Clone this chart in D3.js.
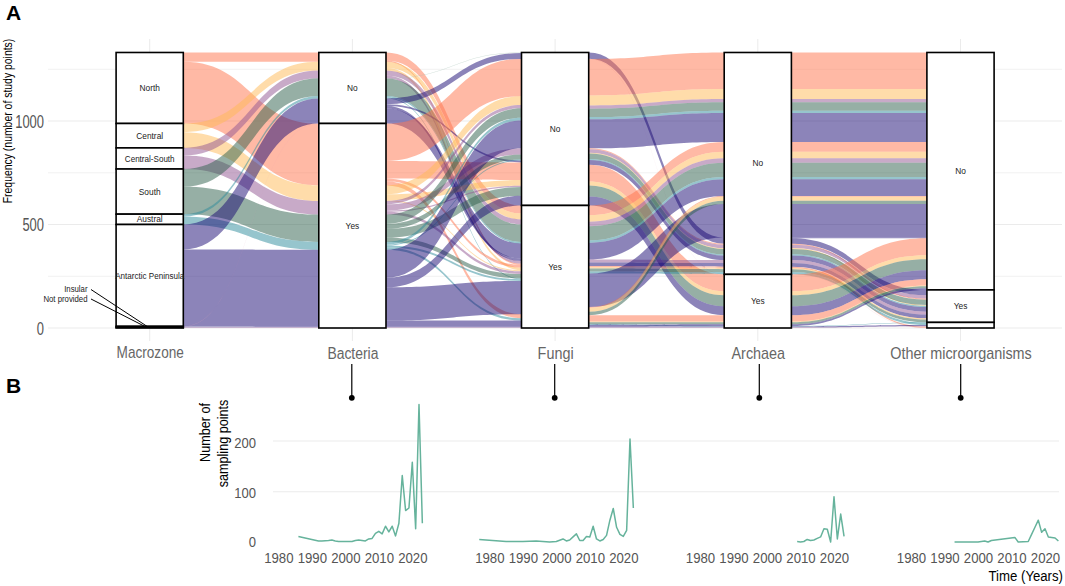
<!DOCTYPE html>
<html><head><meta charset="utf-8">
<style>html,body{margin:0;padding:0;background:#fff}svg{display:block}text{font-family:"Liberation Sans",Arial,sans-serif}</style>
<script src="https://cdn.jsdelivr.net/npm/d3@7"></script>
</head><body><svg id="c" width="1065" height="586"></svg>
<script>
// ---------- DATA ----------
const axesNames = ["Macrozone","Bacteria","Fungi","Archaea","Other microorganisms"];
const freqTicks = [0,500,1000];
const freqMinorTicks = [250,750,1250];
const zoneColors = {N:"#ff734b",C:"#ffb955",CS:"#915591",S:"#2d5f4b",Au:"#2d8c9b",An:"#190973",In:"#190973",NP:"#e8a8c0",SP:"#a8c4b8"};

const macrozoneStrata = [["North",343],["Central",118],["Central-South",102],["South",218],["Austral",50],["Antarctic Peninsula",492],["",5],["",3]];
const bacteriaStrata = [["No",343],["Yes",988]];
const fungiStrata = [["No",739],["Yes",592]];
const archaeaStrata = [["No",1072],["Yes",259]];
const otherStrata = [["No",1147],["Yes",157],["",27]];

// gap rows: [flow id, zone, number of study points], top-to-bottom on the left axis
const gap1Left = [["Nn","N",45],["Ny","N",298],["Cn","C",42],["Cy","C",76],["CSn","CS",37],["CSy","CS",65],["Sn","S",86],["Sy","S",132],["Aun","Au",12],["Auy","Au",38],["Ann","An",121],["Any","An",371],["NPn","NP",1],["Iy","In",5],["NPy","NP",2]];
const gap1Right = ["Nn","Cn","CSn","Sn","Aun","Ann","NPn","Ny","Cy","CSy","Sy","Auy","Any","Iy","NPy"];

const gap2Left = [
 ["a1","N",39],["a2","N",6],["b1","C",29],["b2","C",13],["c1","CS",24],["c2","CS",13],["d2","SP",2],["d1","S",84],["e1","Au",8],["e2","Au",4],
 ["f1","An",28],["f2","An",9],["f3","An",12],["f4","An",72],["g1","NP",1],
 ["h1","N",180],["h2","N",85],["h3","N",13],["h4","N",20],
 ["i1","C",43],["i2","C",28],["i3","C",5],
 ["j1","CS",16],["j2","CS",30],["j3","CS",6],["j4","CS",13],
 ["k1","S",45],["k2","S",24],["k3","S",42],["k4","S",21],
 ["l1","Au",13],["l2","Au",5],["l3","Au",9],["l4","Au",11],
 ["m1","An",135],["m2","An",47],["m3","An",160],["m4","An",29],["n1","In",5],["n2","NP",2]];
const gap2Right = ["d2","g1","f1","h1","i1","j1","k1","l1","m1","j2","k2","l2","f2","h2","i2","j3","k3","m2",
 "a1","b1","c1","d1","e1","f4","f3","c2","a2","h3","b2","i3","j4","k4","e2","l3","m3","h4","l4","m4","n1","n2"];

const gap3Left = [
 ["t","An",30],["p","NP",1],
 ["aN","N",177],["aC","C",48],["aCS","CS",16],["aS","S",40],["aAu","Au",11],["aAn","An",140],
 ["dN","N",5],["dCS","CS",16],["dC","C",4],["dS","S",26],["dAu","Au",6],["dAn","An",22],
 ["yN","N",81],["yC","C",20],["yS","S",53],["yAn","An",43],
 ["bN","N",47],["bC","C",32],["bCS","CS",22],["bS","S",68],["bAu","Au",12],["bAn","An",80],
 ["eCS","CS",14],["eAn","An",18],["eN","N",6],["eC","C",6],["eS","S",14],["eAu","Au",10],
 ["cAn","An",162],["cN","N",4],["cC","C",19],["cS","S",16],
 ["zN","N",31],["zC","C",3],["zS","S",10],["zAu","Au",3],["zAn","An",8],["zI","In",5],["zP","NP",2]];
const gap3Right = ["aN","aC","aCS","aS","aAu","aAn","bN","bC","bCS","bS","bAu","bAn","cN","cC","cS","cAn",
 "t","dN","dCS","dC","dS","dAu","dAn","eCS","eAn","eN","eC","eS","eAu","p",
 "yN","yC","yS","yAn","zN","zC","zS","zAn","zAu","zI","zP"];

const gap4Left = [
 ["AN","N",177],["AC","C",48],["ACS","CS",16],["AS","S",40],["AAu","Au",11],["AAn","An",140],
 ["BN","N",47],["BC","C",32],["BCS","CS",22],["BS","S",68],["BAu","Au",12],["BAn","An",80],
 ["CN","N",4],["CC","C",19],["CS2","S",16],["CAn","An",162],
 ["T1","An",4],["T2","An",26],["DN","N",5],["DCS","CS",16],["DC","C",4],["DS","S",26],["DAu","Au",6],["DAn","An",22],
 ["ECS","CS",14],["EAn","An",18],["EN","N",6],["EC","C",6],["ES","S",14],["EAu","Au",10],["P1","NP",1],
 ["YN","N",81],["YC","C",20],["YS","S",53],["YAn","An",43],
 ["ZN","N",31],["ZC","C",3],["ZS","S",10],["ZAn","An",8],["ZAu","Au",3],["ZI","In",5],["ZP","NP",2]];
const gap4Right = ["AN","AC","ACS","AS","AAu","AAn","BN","BC","BCS","BS","BAu","BAn","CN","CC","CS2","CAn",
 "T1","YN","YC","YS","YAn","ZN","ZC","ZS","ZAn",
 "T2","DCS","DN","DS","DC","DAu","DAn","ECS","EAn","EC","ES",
 "ZAu","EAu","ZI","ZP","EN","P1"];

const sampleTicks = [0,100,200];
const yearTicks = [1980,1990,2000,2010,2020];
const bacteriaYears = [1986,1992,1993,1995,1996,1997,1998,2000,2002,2003,2004,2005,2006,2007,2008,2009,2010,2011,2012,2013,2014,2015,2016,2017,2018,2019,2020,2021,2022,2023];
const bacteriaCounts = [12,3,3,4,5,3,2,2,2,4,5,4,3,7,8,18,22,17,32,21,32,13,38,132,63,68,158,27,272,38];
const fungiYears = [1977,1985,1990,1994,1998,2000,2002,2003,2004,2005,2006,2007,2008,2009,2010,2011,2012,2013,2014,2015,2016,2017,2018,2019,2020,2021,2022,2023];
const fungiCounts = [6,2,2,3,1,2,7,3,5,11,17,4,4,12,11,32,7,3,6,14,44,67,30,16,12,24,204,68];
const archaeaYears = [2009,2010,2011,2012,2013,2014,2015,2016,2017,2018,2019,2020,2021,2022,2023];
const archaeaCounts = [2,1,2,6,4,5,8,11,27,26,1,90,7,56,12];
const otherYears = [1993,2000,2002,2003,2004,2011,2012,2015,2016,2017,2018,2019,2020,2021,2022,2023,2024];
const otherCounts = [1,1,3,1,4,10,1,2,16,30,44,20,27,11,10,9,3];
const lineSeries = [[bacteriaYears,bacteriaCounts],[fungiYears,fungiCounts],[archaeaYears,archaeaCounts],[otherYears,otherCounts]];

// ---------- LAYOUT ----------
const svg = d3.select("#c");
const TOTAL = 1331;
const y = d3.scaleLinear().domain([0,1000]).range([328,121]);
const x = d3.scalePoint().domain(axesNames).range([149.7,960.5]);
const halfW = 33.6;
const grid = "#ebebeb";

function lbl(sel,px,py,str,o={}){
  const t = sel.append("text").text(str)
    .attr("transform",`translate(${px},${py}) rotate(${o.rot||0}) scale(${o.sx||1},1)`)
    .attr("text-anchor",o.anchor||"middle").attr("dominant-baseline","central")
    .attr("font-size",o.size||12).attr("fill",o.fill||"#000");
  if(o.weight) t.attr("font-weight",o.weight);
  return t;
}

// grid
const gGrid = svg.append("g");
gGrid.selectAll(".maj").data(freqTicks).join("line").attr("x1",48).attr("x2",1062)
  .attr("y1",d=>y(d)).attr("y2",d=>y(d)).attr("stroke",grid).attr("stroke-width",1.1);
gGrid.selectAll(".min").data(freqMinorTicks).join("line").attr("class","min").attr("x1",48).attr("x2",1062)
  .attr("y1",d=>y(d)).attr("y2",d=>y(d)).attr("stroke",grid).attr("stroke-width",.7);
gGrid.selectAll(".v").data(axesNames).join("line").attr("class","v").attr("x1",d=>x(d)).attr("x2",d=>x(d))
  .attr("y1",39).attr("y2",341).attr("stroke",grid).attr("stroke-width",1);

// flows
const flowArea = d3.area().x(d=>d.x).y0(d=>y(d.top)).y1(d=>y(d.bottom)).curve(d3.curveBumpX);
function stack(ids,get){ let v=TOTAL; const m={}; ids.forEach(id=>{const n=get(id); m[id]={top:v,bottom:v-n}; v-=n;}); return m; }
const gaps=[[gap1Left,gap1Right],[gap2Left,gap2Right],[gap3Left,gap3Right],[gap4Left,gap4Right]];
const gFlow = svg.append("g");
gaps.forEach(([L,R],i)=>{
  const byId = new Map(L.map(r=>[r[0],r]));
  const lm = stack(L.map(r=>r[0]),id=>byId.get(id)[2]);
  const rm = stack(R,id=>byId.get(id)[2]);
  const x0 = x(axesNames[i])+halfW, x1 = x(axesNames[i+1])-halfW;
  gFlow.append("g").selectAll("path").data(L).join("path")
    .attr("d",r=>flowArea([{x:x0,...lm[r[0]]},{x:x1,...rm[r[0]]}]))
    .attr("fill",r=>zoneColors[r[1]]).attr("fill-opacity",.5);
});

// strata
const allStrata=[macrozoneStrata,bacteriaStrata,fungiStrata,archaeaStrata,otherStrata];
const gS = svg.append("g");
allStrata.forEach((st,i)=>{
  let v=TOTAL;
  st.forEach(([name,n])=>{
    const cx=x(axesNames[i]);
    gS.append("rect").attr("x",cx-halfW).attr("width",2*halfW).attr("y",y(v)).attr("height",y(v-n)-y(v))
      .attr("fill","#fff").attr("stroke","#000").attr("stroke-width",1.6);
    v-=n;
  });
  v=TOTAL;
  st.forEach(([name,n])=>{
    if(name) lbl(gS,x(axesNames[i]),y(v-n/2),name,{size:8.6,sx:name.length>12?.94:.97,fill:"#222"});
    v-=n;
  });
});

// panel A labels
const axY = svg.append("g").attr("transform","translate(44,0)").call(d3.axisLeft(y).tickValues(freqTicks).tickSize(0).tickFormat(d3.format("d")));
axY.select(".domain").remove();
axY.selectAll("text").attr("x",null).attr("dy",null).attr("transform","scale(.74,1)")
  .attr("dominant-baseline","central").attr("font-size",17.5).attr("fill","#555").style("font-family","'Liberation Sans'");
const axX = svg.append("g").attr("transform","translate(0,346)").call(d3.axisBottom(x).tickSize(0));
axX.select(".domain").remove();
axX.selectAll("text").attr("y",null).attr("dy",null).attr("transform",d=>`translate(0,${d==="Macrozone"?6.5:7.5}) scale(${d==="Macrozone"?.85:d==="Bacteria"?.87:.9},1)`)
  .attr("dominant-baseline","central").attr("font-size",16).attr("fill","#666").style("font-family","'Liberation Sans'");

lbl(svg,8,121,"Frequency (number of study points)",{rot:-90,size:12,sx:.87});
lbl(svg,6,12,"A",{anchor:"start",size:21,weight:"bold"});
lbl(svg,6,385,"B",{anchor:"start",size:21,weight:"bold"});
lbl(svg,87.5,289,"Insular",{anchor:"end",size:8.2,sx:.95,fill:"#222"});
lbl(svg,87.5,299,"Not provided",{anchor:"end",size:8.2,sx:.95,fill:"#222"});
svg.append("line").attr("x1",91).attr("y1",289.5).attr("x2",148).attr("y2",327).attr("stroke","#000").attr("stroke-width",1);
svg.append("line").attr("x1",91).attr("y1",299).attr("x2",146).attr("y2",327).attr("stroke","#000").attr("stroke-width",1);

// lollipops
const lollipopX=[351.8,554.7,759.3,960.7];
svg.append("g").selectAll("line").data(lollipopX).join("line").attr("x1",d=>d).attr("x2",d=>d).attr("y1",364).attr("y2",397).attr("stroke","#000").attr("stroke-width",1.2);
svg.append("g").selectAll("circle").data(lollipopX).join("circle").attr("cx",d=>d).attr("cy",397.8).attr("r",2.9).attr("fill","#000");

// panel B
const yB = d3.scaleLinear().domain([0,200]).range([542.5,441]);
svg.append("g").selectAll("line").data(sampleTicks.slice(1)).join("line").attr("x1",273).attr("x2",1059)
  .attr("y1",d=>yB(d)).attr("y2",d=>yB(d)).attr("stroke",grid).attr("stroke-width",1.1);
const axYB = svg.append("g").attr("transform","translate(256,0)").call(d3.axisLeft(yB).tickValues(sampleTicks).tickSize(0).tickPadding(0));
axYB.select(".domain").remove();
axYB.selectAll("text").attr("x",null).attr("dy",null).attr("dominant-baseline","central").attr("transform",d=>`translate(0,${d===200?1.5:d===0?-1:0}) scale(.87,1)`)
  .attr("font-size",15).attr("fill","#555").style("font-family","'Liberation Sans'");
const facetX0=[278.3,489.3,700,911];
lineSeries.forEach(([yrs,cnt],i)=>{
  const fx=d3.scaleLinear().domain([1980,2020]).range([facetX0[i],facetX0[i]+134]);
  const ax=svg.append("g").attr("transform","translate(0,551)").call(d3.axisBottom(fx).tickValues(yearTicks).tickFormat(d3.format("d")).tickSize(0));
  ax.select(".domain").remove();
  ax.selectAll("text").attr("y",null).attr("dy",null).attr("dominant-baseline","central").attr("transform","translate(0,6.7) scale(.88,1)")
    .attr("font-size",15).attr("fill","#555").style("font-family","'Liberation Sans'");
  const line=d3.line().x((d,j)=>fx(yrs[j])).y(d=>yB(d));
  svg.append("path").attr("d",line(cnt)).attr("fill","none").attr("stroke","#66b39c").attr("stroke-width",1.5).attr("stroke-linejoin","round");
});
lbl(svg,205,432.5,"Number of",{rot:-90,size:15,sx:.84});
lbl(svg,222.5,443.5,"sampling points",{rot:-90,size:15,sx:.84});
lbl(svg,1063,576,"Time (Years)",{anchor:"end",size:15,sx:.88});
</script></body></html>
